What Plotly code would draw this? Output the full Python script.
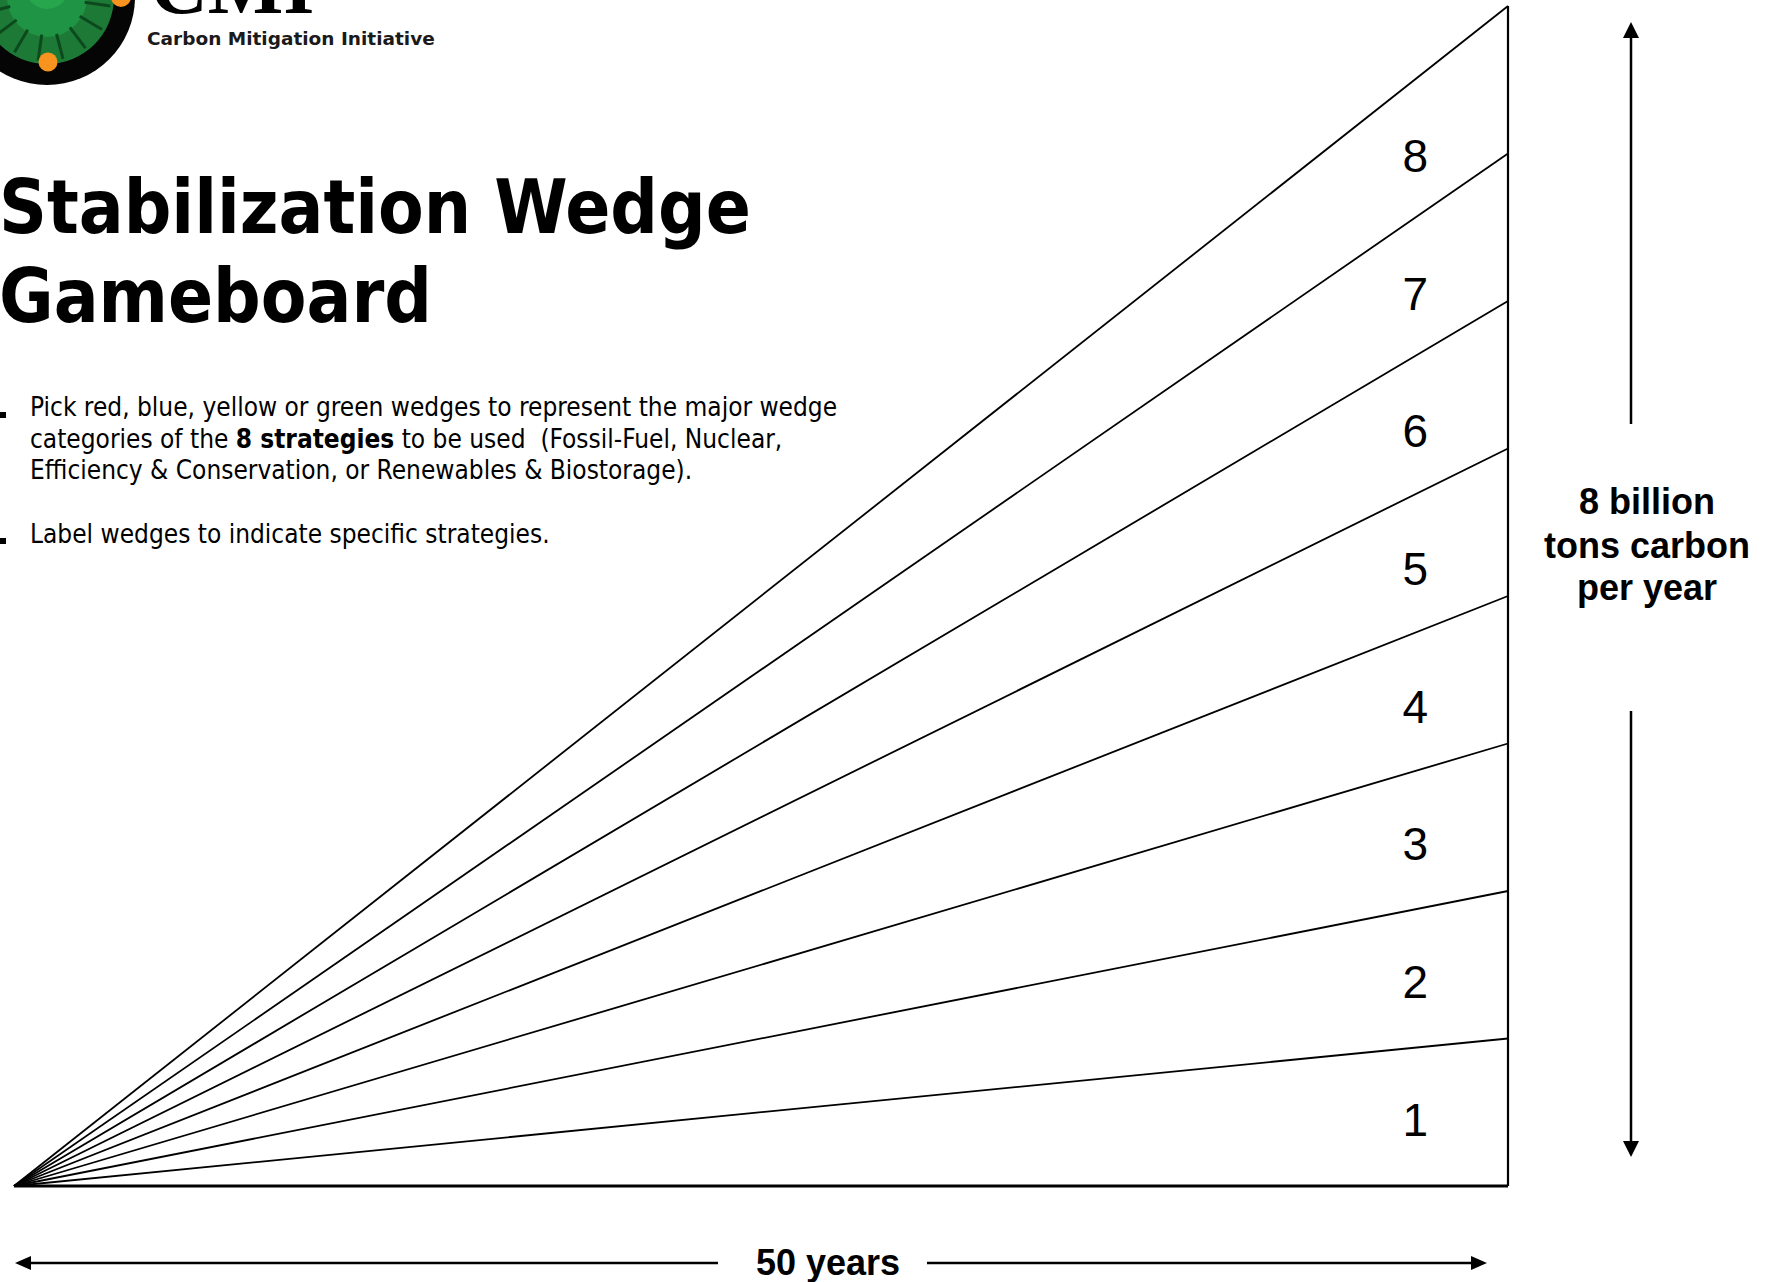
import math
import plotly.graph_objects as go

# ---------------- data ----------------
years = [0, 50]                       # time span of the stabilization triangle
wedge_levels = [1, 2, 3, 4, 5, 6, 7, 8]   # billion tons carbon per year at year 50
wedge_labels = ["1", "2", "3", "4", "5", "6", "7", "8"]
total_level = 8
label_year = 46.9                     # year at which wedge numbers are written

title_lines = ["Stabilization Wedge", "Gameboard"]
body_lines = [
    "Pick red, blue, yellow or green wedges to represent the major wedge",
    "categories of the <b>8 strategies</b> to be used\u00a0 (Fossil-Fuel, Nuclear,",
    "Efficiency &amp; Conservation, or Renewables &amp; Biostorage).",
    "Label wedges to indicate specific strategies.",
]
side_label = ["8 billion", "tons carbon", "per year"]
bottom_label = "50 years"

# ---------------- geometry (pixel frame) ----------------
W, H = 1765, 1282
X0PX, X50PX = 14, 1508      # pixel columns of year 0 and year 50
Y0PX, Y8PX = 1186, 6        # pixel rows of level 0 and level 8
xpp = (years[1] - years[0]) / (X50PX - X0PX)
ypp = total_level / (Y0PX - Y8PX)


def X(px):
    return years[0] + (px - X0PX) * xpp


def Y(py):
    return (Y0PX - py) * ypp


fig = go.Figure()

# wedge boundary lines
for k in wedge_levels:
    fig.add_trace(go.Scatter(x=years, y=[0, k], mode="lines",
                             line=dict(color="black", width=1.8),
                             hoverinfo="skip", showlegend=False))
# base and right edge of the triangle
fig.add_trace(go.Scatter(x=years, y=[0, 0], mode="lines",
                         line=dict(color="black", width=3),
                         hoverinfo="skip", showlegend=False))
fig.add_trace(go.Scatter(x=[years[1], years[1]], y=[0, total_level], mode="lines",
                         line=dict(color="black", width=2.2),
                         hoverinfo="skip", showlegend=False))
# wedge numbers
frac = label_year / years[1]
label_shift = 7 * ypp   # small downward nudge so glyphs sit centred in each wedge
fig.add_trace(go.Scatter(
    x=[label_year] * len(wedge_levels),
    y=[(k - 0.5) * frac * 0.995 - label_shift for k in wedge_levels],
    mode="text", text=wedge_labels, textposition="middle center",
    textfont=dict(family="Liberation Sans, Arial", size=46, color="black"),
    hoverinfo="skip", showlegend=False, cliponaxis=False))

shapes = []
ann = []


def line_px(x0, y0, x1, y1, w=2.5, color="black"):
    shapes.append(dict(type="line", xref="x", yref="y",
                       x0=X(x0), y0=Y(y0), x1=X(x1), y1=Y(y1),
                       line=dict(color=color, width=w)))


def poly_px(pts, color="black"):
    d = "M " + " L ".join(f"{X(a)},{Y(b)}" for a, b in pts) + " Z"
    shapes.append(dict(type="path", xref="x", yref="y", path=d,
                       fillcolor=color, line=dict(color=color, width=0)))


def circle_px(cx, cy, r, color, lw=0, lc=None):
    shapes.append(dict(type="circle", xref="x", yref="y",
                       x0=X(cx - r), x1=X(cx + r), y0=Y(cy + r), y1=Y(cy - r),
                       fillcolor=color, line=dict(color=lc or color, width=lw)))


# vertical double arrow (8 billion tons)
AX = 1631
line_px(AX, 424, AX, 36, w=2.5)
poly_px([(AX - 8, 38), (AX + 8, 38), (AX, 22)])
line_px(AX, 711, AX, 1143, w=2.5)
poly_px([(AX - 8, 1141), (AX + 8, 1141), (AX, 1157)])

# horizontal double arrow (50 years)
AY = 1263
line_px(30, AY, 718, AY, w=2.5)
poly_px([(15, AY), (31, AY - 7), (31, AY + 7)])
line_px(927, AY, 1472, AY, w=2.5)
poly_px([(1487, AY), (1471, AY - 7), (1471, AY + 7)])

# logo
LCX, LCY = 47, -3
circle_px(LCX, LCY, 88, "#050505")
circle_px(LCX, LCY, 67, "#1d7a36")
circle_px(LCX, LCY, 40, "#1f9444")
circle_px(LCX, LCY - 10, 22, "#27a64e")
for i in range(16):
    a = math.radians(i * 360 / 16 + 8)
    line_px(LCX + 38 * math.cos(a), LCY + 38 * math.sin(a),
            LCX + 64 * math.cos(a), LCY + 64 * math.sin(a), w=3, color="#0c4a1d")
circle_px(48, 62, 9.5, "#f7931e")
circle_px(121, -3, 10, "#f7931e")

# bullets
for by in (412, 538):
    shapes.append(dict(type="rect", xref="x", yref="y",
                       x0=X(-1), x1=X(6), y0=Y(by + 6), y1=Y(by),
                       fillcolor="black", line=dict(width=0)))


def text_px(x, y, s, size, family, xanchor="left", color="black", bold=False):
    ann.append(dict(x=x / W, y=1 - y / H, xref="paper", yref="paper", text=s,
                    showarrow=False, xanchor=xanchor, yanchor="middle",
                    font=dict(family=family, size=size, color=color,
                              weight="bold" if bold else "normal")))


# logo texts
text_px(148, -14, "CMI", 80, "Liberation Serif, Times New Roman", bold=True)
text_px(145, 39, "Carbon Mitigation Initiative", 18.5, "DejaVu Sans", color="#1a1a1a", bold=True)

# title
TF = "DejaVu Sans Condensed, DejaVu Sans"
text_px(-3, 207, title_lines[0], 74, TF, bold=True)
text_px(-3, 296, title_lines[1], 74, TF, bold=True)

# body text
BF = "DejaVu Sans Condensed, DejaVu Sans"
for yy, s in zip((407, 439, 470, 534), body_lines):
    text_px(28, yy, s, 26, BF)

# side label
SF = "Liberation Sans, Arial"
for yy, s in zip((502, 545, 587), side_label):
    text_px(1647, yy, s, 36, SF, xanchor="center", bold=True)

# bottom label
text_px(828, 1262, bottom_label, 36, SF, xanchor="center", bold=True)

fig.update_layout(
    width=W, height=H,
    margin=dict(l=0, r=0, t=0, b=0),
    paper_bgcolor="white", plot_bgcolor="white",
    xaxis=dict(range=[X(0), X(W)], visible=False, showgrid=False, zeroline=False, fixedrange=True),
    yaxis=dict(range=[Y(H), Y(0)], visible=False, showgrid=False, zeroline=False, fixedrange=True),
    shapes=shapes, annotations=ann, hovermode=False, showlegend=False,
)

fig.write_html("out.html", config={"displayModeBar": False, "staticPlot": True},
               post_script="document.body.style.margin='0';document.body.style.overflow='hidden';")
